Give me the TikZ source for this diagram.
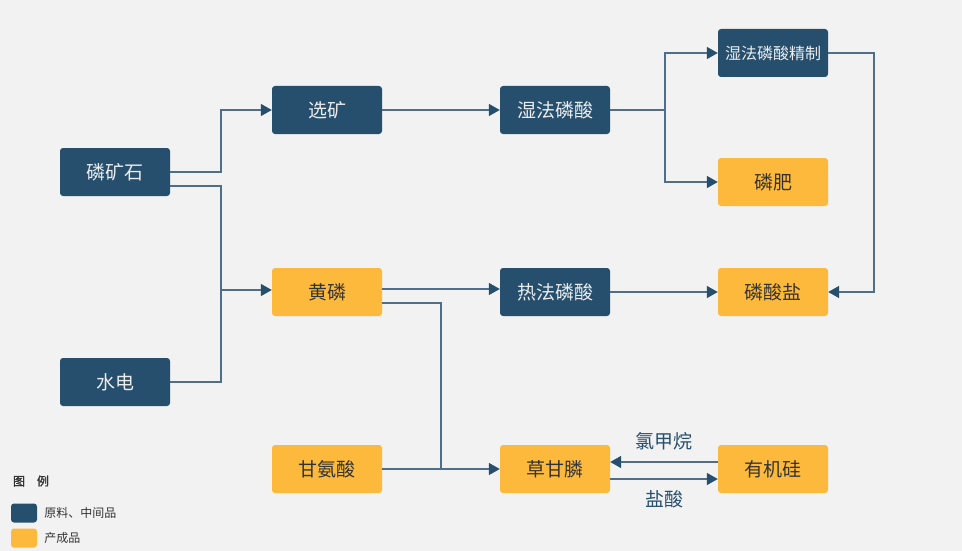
\documentclass[tikz,border=0pt]{standalone}
\usepackage{fontspec}
\setmainfont{Noto Sans CJK SC}
\newfontfamily\legendfont{Noto Sans CJK SC}[FakeBold=1.5]
\usetikzlibrary{arrows.meta,positioning}
\definecolor{darkbox}{HTML}{264F6E}
\definecolor{orangebox}{HTML}{FDB93C}
\definecolor{lineblue}{HTML}{4F6E8A}
\definecolor{bggray}{HTML}{F2F2F2}
\definecolor{textdark}{HTML}{333333}

\begin{document}
\begin{tikzpicture}[%
        x=1pt, y=-1pt,
        every node/.style={inner sep=0pt},
        rawbox/.style={rectangle, rounded corners=3pt, minimum width=110pt, minimum height=48pt,
          fill=darkbox, text=white!93!black, font=\fontsize{19}{21}\selectfont},
        productbox/.style={rawbox, fill=orangebox, text=textdark},
        swatch/.style={rectangle, rounded corners=3pt, minimum width=26pt, minimum height=19pt},
        line/.style={draw=lineblue, line width=1.5pt},
        flow/.style={line, -{Triangle[length=11pt,width=12pt,color=darkbox]}},
        arrowlabel/.style={font=\fontsize{19}{21}\selectfont, text=darkbox}
      ]
      \useasboundingbox[fill=bggray] (0,0) rectangle (962,551);
      % column 1
      \node [rawbox] (mine) at (115,172) {磷矿石};
      \node [rawbox] (power) at (115,382) {水电};
      % column 2
      \node [rawbox] (ore) at (327,110) {选矿};
      \node [productbox] (phos) at (327,292) {黄磷};
      \node [productbox] (gly) at (327,469) {甘氨酸};
      % column 3
      \node [rawbox] (wet) at (555,110) {湿法磷酸};
      \node [rawbox] (hot) at (555,292) {热法磷酸};
      \node [productbox] (glyp) at (555,469) {草甘膦};
      % column 4
      \node [rawbox, font=\fontsize{16}{18}\selectfont] (refine) at (773,53) {湿法磷酸精制};
      \node [productbox] (fert) at (773,182) {磷肥};
      \node [productbox] (salt) at (773,292) {磷酸盐};
      \node [productbox] (sil) at (773,469) {有机硅};

      % junctions
      \coordinate (splitA) at (221,290);
      \coordinate (splitB) at (441,469);
      \coordinate (splitC) at (665,110);

      \draw[flow] (mine.east) -| ++(51,0) |- (ore.west);
      \draw[line] ([yshift=-14pt]mine.east) -| (splitA) |- (power.east);
      \draw[flow] (splitA) -- (splitA -| phos.west);
      \draw[flow] (ore.east) -- (wet.west);
      \draw[line] (wet.east) -- (splitC);
      \draw[flow] (splitC) |- (refine.west);
      \draw[flow] (splitC) |- (fert.west);
      \draw[flow] (refine.east) -- ++(46,0) |- (salt.east);
      \draw[flow] ([yshift=3pt]phos.east) -- ([yshift=3pt]hot.west);
      \draw[flow] (hot.east) -- (salt.west);
      \draw[line] ([yshift=-11pt]phos.east) -| (splitB);
      \draw[flow] (gly.east) -- (glyp.west);
      \draw[flow] ([yshift=7pt]sil.west) -- ([yshift=7pt]glyp.east)
        node[arrowlabel, midway, above=11pt] {氯甲烷};
      \draw[flow] ([yshift=-10pt]glyp.east) -- ([yshift=-10pt]sil.west)
        node[arrowlabel, midway, below=11pt] {盐酸};

      % legend
      \node [font=\legendfont\fontsize{12}{14}\selectfont, text=textdark] (keytitle) at (31,481) {图\hspace{1em}例};
      \node [swatch, fill=darkbox] (keyraw) at (24,513) {};
      \node [swatch, fill=orangebox] (keyproduct) at (24,538) {};
      \node [right=7pt of keyraw, font=\fontsize{12}{14}\selectfont, text=textdark] (keyrawtext) {原料、中间品};
      \node [right=7pt of keyproduct, font=\fontsize{12}{14}\selectfont, text=textdark] (keyproducttext) {产成品};
    \end{tikzpicture}
\end{document}
